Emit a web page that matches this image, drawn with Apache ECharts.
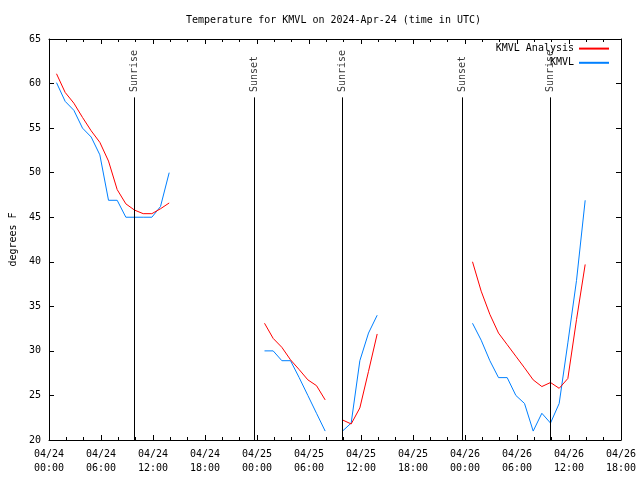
<!DOCTYPE html>
<html><head><meta charset="utf-8">
<script src="https://cdn.jsdelivr.net/npm/echarts@6/dist/echarts.min.js"></script>
<style>html,body{margin:0;padding:0;background:#fff}#c{width:640px;height:480px}</style>
</head><body><div id="c"></div>
<script>
const titleText = 'Temperature for KMVL on 2024-Apr-24 (time in UTC)';
const seriesNames = ['KMVL Analysis', 'KMVL'];
const yAxisName = 'degrees F';

const seg1Times = ['2024-04-24T00:52','2024-04-24T01:52','2024-04-24T02:52','2024-04-24T03:52','2024-04-24T04:52','2024-04-24T05:52','2024-04-24T06:52','2024-04-24T07:52','2024-04-24T08:52','2024-04-24T09:52','2024-04-24T10:52','2024-04-24T11:52','2024-04-24T12:52','2024-04-24T13:52'];
const seg1Analysis = [61.1, 59.0, 57.8, 56.2, 54.7, 53.4, 51.3, 48.1, 46.5, 45.8, 45.4, 45.4, 45.95, 46.6];
const seg1Obs = [60.1, 58.0, 57.0, 55.0, 54.0, 52.0, 46.9, 46.9, 45.0, 45.0, 45.0, 45.0, 46.2, 50.0];

const seg2Times = ['2024-04-25T00:52','2024-04-25T01:52','2024-04-25T02:52','2024-04-25T03:52','2024-04-25T04:52','2024-04-25T05:52','2024-04-25T06:52','2024-04-25T07:52'];
const seg2Analysis = [33.1, 31.4, 30.4, 29.0, 27.9, 26.75, 26.1, 24.5];
const seg2Obs = [30.0, 30.0, 28.9, 28.9, 27.0, 25.0, 23.0, 21.0];

const seg3Times = ['2024-04-25T09:52','2024-04-25T10:52','2024-04-25T11:52','2024-04-25T12:52','2024-04-25T13:52'];
const seg3Analysis = [22.25, 21.8, 23.6, 27.7, 31.9];
const seg3Obs = [21.0, 21.9, 28.9, 32.0, 34.0];

const seg4Times = ['2024-04-26T00:52','2024-04-26T01:52','2024-04-26T02:52','2024-04-26T03:52','2024-04-26T04:52','2024-04-26T05:52','2024-04-26T06:52','2024-04-26T07:52','2024-04-26T08:52','2024-04-26T09:52','2024-04-26T10:52','2024-04-26T11:52','2024-04-26T12:52','2024-04-26T13:52'];
const seg4Analysis = [40.0, 36.7, 34.1, 32.0, 30.7, 29.4, 28.1, 26.75, 26.0, 26.45, 25.8, 26.9, 33.5, 39.7];
const seg4Obs = [33.1, 31.2, 28.9, 27.0, 27.0, 25.0, 24.1, 21.0, 23.0, 21.9, 24.1, 30.9, 37.9, 46.9];

const sunTimes = ['2024-04-24T09:52','2024-04-24T23:39','2024-04-25T09:48','2024-04-25T23:42','2024-04-26T09:48'];
const sunLabels = ['Sunrise','Sunset','Sunrise','Sunset','Sunrise'];

const xStart = '2024-04-24T00:00';
const xEnd = '2024-04-26T18:00';
const yMin = 20, yMax = 65, yStep = 5;

// annotation placement (in data units)
const SUN_LINE_TOP = 58.45;
const SUN_LABEL_Y = 59.05;

const ms = s => new Date(s + 'Z').getTime();
const HOUR = 3600 * 1000;
const segs = [
  [seg1Times, seg1Analysis, seg1Obs],
  [seg2Times, seg2Analysis, seg2Obs],
  [seg3Times, seg3Analysis, seg3Obs],
  [seg4Times, seg4Analysis, seg4Obs]
];
function build(idx) {
  const out = [];
  segs.forEach((s, k) => {
    if (k > 0) out.push(['-', '-']);
    s[0].forEach((t, i) => out.push([ms(t), s[idx][i]]));
  });
  return out;
}
const pad = n => (n < 10 ? '0' : '') + n;
const fmtX = v => {
  const d = new Date(v);
  return pad(d.getUTCMonth() + 1) + '/' + pad(d.getUTCDate()) + '\n' + pad(d.getUTCHours()) + ':' + pad(d.getUTCMinutes());
};
const FONT = 'DejaVu Sans Mono';
const txt = {fontFamily: FONT, fontSize: 10, color: '#000'};
const axLine = {show: true, onZero: false, lineStyle: {color: '#000', width: 1}};

const xBase = {
  type: 'value', min: ms(xStart), max: ms(xEnd), interval: 6 * HOUR,
  axisLine: axLine,
  axisTick: {show: true, inside: true, length: 5, lineStyle: {color: '#000'}},
  minorTick: {show: true, splitNumber: 3, length: 3, lineStyle: {color: '#000'}},
  splitLine: {show: false}
};
const yBase = {
  type: 'value', min: yMin, max: yMax, interval: yStep,
  axisLine: axLine,
  axisTick: {show: true, inside: true, length: 5, lineStyle: {color: '#000'}},
  splitLine: {show: false}
};

const chart = echarts.init(document.getElementById('c'), null, {renderer: 'canvas'});
chart.setOption({
  animation: false,
  backgroundColor: '#fff',
  title: {
    text: titleText, left: 186, top: 15, padding: 0,
    textStyle: {fontFamily: FONT, fontSize: 10, fontWeight: 'normal', color: '#000'}
  },
  legend: {
    data: seriesNames, orient: 'vertical', right: 30, top: 43, align: 'right',
    itemWidth: 30, itemHeight: 14, itemGap: 3, padding: 0,
    itemStyle: {opacity: 0, borderWidth: 0},
    textStyle: txt
  },
  grid: {left: 46, right: 19, top: 39, bottom: 40, containLabel: false},
  xAxis: [
    Object.assign({}, xBase, {position: 'bottom',
      axisLabel: Object.assign({}, txt, {formatter: fmtX, margin: 7, lineHeight: 14, showMinLabel: true, showMaxLabel: true})}),
    Object.assign({}, xBase, {position: 'top', axisLabel: {show: false}})
  ],
  yAxis: [
    Object.assign({}, yBase, {position: 'left', name: yAxisName, nameLocation: 'middle', nameGap: 31,
      nameTextStyle: txt, axisLabel: Object.assign({}, txt, {margin: 8})}),
    Object.assign({}, yBase, {position: 'right', axisLabel: {show: false}})
  ],
  series: [
    {
      name: seriesNames[0], type: 'line', data: build(1), symbol: 'none', showSymbol: false,
      connectNulls: false, lineStyle: {color: '#ff0000', width: 1}, itemStyle: {color: '#ff0000'}, z: 3,
      markLine: {
        silent: true, symbol: ['none', 'none'], label: {show: false},
        lineStyle: {color: '#000', width: 1, type: 'solid'},
        data: sunTimes.map(t => [{coord: [ms(t), yMin]}, {coord: [ms(t), SUN_LINE_TOP]}])
      }
    },
    {
      name: seriesNames[1], type: 'line', data: build(2), symbol: 'none', showSymbol: false,
      connectNulls: false, lineStyle: {color: '#0080ff', width: 1}, itemStyle: {color: '#0080ff'}, z: 2
    },
    {
      name: 'sun', type: 'scatter', symbolSize: 0, silent: true,
      data: sunTimes.map(t => [ms(t), SUN_LABEL_Y]),
      label: Object.assign({}, txt, {show: true, position: [0, 0], rotate: 90, align: 'left', verticalAlign: 'middle',
        formatter: p => sunLabels[p.dataIndex]})
    }
  ]
});
</script></body></html>
